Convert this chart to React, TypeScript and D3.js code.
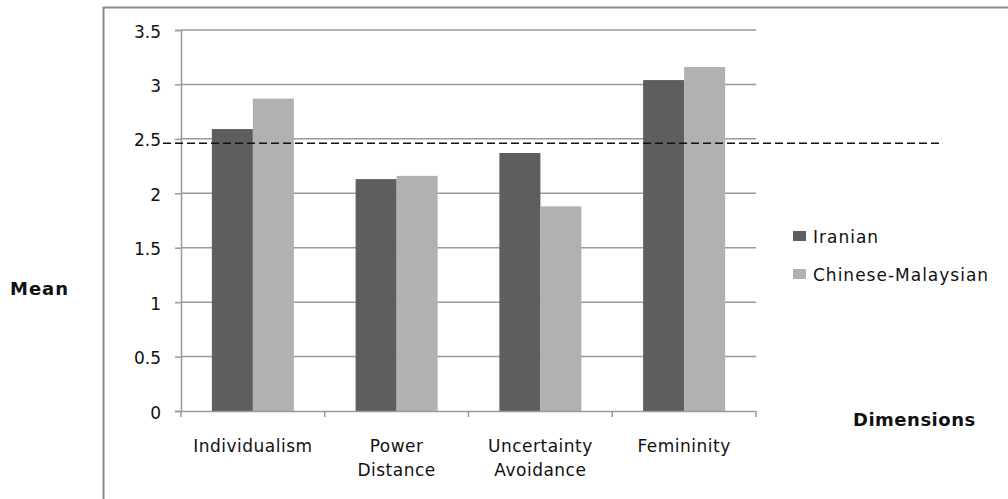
import React, { useEffect, useRef } from 'react';
import * as d3 from 'd3';

const categories = [['Individualism'], ['Power', 'Distance'], ['Uncertainty', 'Avoidance'], ['Femininity']];
const seriesNames = ['Iranian', 'Chinese-Malaysian'];
const iranian = [2.59, 2.13, 2.37, 3.04];
const chineseMalaysian = [2.87, 2.16, 1.88, 3.16];
const yTicks = [0, 0.5, 1, 1.5, 2, 2.5, 3, 3.5];
const referenceLine = 2.46;
const colors = ['#5e5e5e', '#b1b1b1'];

const App = () => {
  const ref = useRef<SVGSVGElement | null>(null);

  useEffect(() => {
    if (!ref.current) return;
    const svg = d3.select(ref.current);
    svg.selectAll('*').remove();
    const font = '"DejaVu Sans", Verdana, sans-serif';

    const left = 181, right = 756, top = 30, bottom = 411;
    const keys = categories.map((c) => c.join(' '));

    const x = d3.scaleBand().domain(keys).range([left, right]).paddingInner(0).paddingOuter(0);
    const inner = d3.scaleBand().domain(seriesNames).range([0, 82]);
    const y = d3.scaleLinear().domain([0, 3.5]).range([bottom, top]);

    // outer frame
    svg.append('path').attr('d', 'M103.5,499 L103.5,7.5 L1008,7.5')
      .attr('fill', 'none').attr('stroke', '#8c8c8c').attr('stroke-width', 2);

    // gridlines
    svg.append('g').selectAll('line').data(yTicks.filter((t) => t > 0)).enter().append('line')
      .attr('x1', left).attr('x2', right)
      .attr('y1', (d) => y(d)).attr('y2', (d) => y(d))
      .attr('stroke', '#9a9a9a').attr('stroke-width', 1.5);

    // y axis
    const yAxis = d3.axisLeft(y).tickValues(yTicks).tickSize(6).tickPadding(14)
      .tickFormat((d) => String(d));
    const gy = svg.append('g').attr('transform', `translate(${left},0)`).call(yAxis);
    gy.select('.domain').attr('stroke', '#9a9a9a').attr('stroke-width', 1.5);
    gy.selectAll('.tick line').attr('stroke', '#9a9a9a').attr('stroke-width', 1.5);
    gy.selectAll('.tick text').attr('font-family', font).attr('font-size', 17).attr('fill', '#111')
      .attr('dy', '0.42em');

    // bars
    const data = keys.map((k, i) => ({ key: k, vals: [iranian[i], chineseMalaysian[i]] }));
    const groups = svg.append('g').selectAll('g').data(data).enter().append('g')
      .attr('transform', (d) => `translate(${x(d.key)! + x.bandwidth() / 2 - 41},0)`);
    groups.selectAll('rect').data((d) => d.vals.map((v, j) => ({ v, s: seriesNames[j], j }))).enter().append('rect')
      .attr('x', (d) => inner(d.s)!)
      .attr('width', inner.bandwidth())
      .attr('y', (d) => y(d.v))
      .attr('height', (d) => y(0) - y(d.v))
      .attr('fill', (d) => colors[d.j]);

    // x axis
    const xAxis = d3.axisBottom(x).tickSize(0).tickFormat(() => '');
    const gx = svg.append('g').attr('transform', `translate(0,${bottom})`).call(xAxis);
    gx.select('.domain').attr('stroke', '#9a9a9a').attr('stroke-width', 1.5);
    const boundaries = [left, ...keys.map((k) => x(k)! + x.bandwidth())];
    svg.append('g').selectAll('line').data(boundaries).enter().append('line')
      .attr('x1', (d) => d).attr('x2', (d) => d)
      .attr('y1', bottom).attr('y2', bottom + 6)
      .attr('stroke', '#9a9a9a').attr('stroke-width', 1.5);

    // category labels
    const labels = svg.append('g').selectAll('text').data(categories).enter().append('text')
      .attr('x', (d) => x(d.join(' '))! + x.bandwidth() / 2)
      .attr('y', 452)
      .attr('text-anchor', 'middle')
      .attr('font-family', font).attr('font-size', 17).attr('letter-spacing', 0.5).attr('fill', '#111');
    labels.selectAll('tspan').data((d) => d).enter().append('tspan')
      .attr('x', function () { return (this.parentNode as SVGTextElement).getAttribute('x'); })
      .attr('dy', (_d, i) => (i === 0 ? 0 : 24))
      .text((d) => d);

    // dashed reference line
    svg.append('line')
      .attr('x1', 163).attr('x2', 940)
      .attr('y1', y(referenceLine)).attr('y2', y(referenceLine))
      .attr('stroke', '#111').attr('stroke-width', 1.5).attr('stroke-dasharray', '8,4');

    // legend
    const legend = svg.append('g').selectAll('g').data(seriesNames).enter().append('g')
      .attr('transform', (_d, i) => `translate(793,${231 + i * 38})`);
    legend.append('rect').attr('width', 13).attr('height', 10).attr('fill', (_d, i) => colors[i]);
    legend.append('text').attr('x', 20).attr('y', 12)
      .attr('font-family', font).attr('font-size', 17).attr('letter-spacing', 1).attr('fill', '#111')
      .text((d) => d);

    // axis titles
    svg.append('text').attr('x', 10).attr('y', 295)
      .attr('font-family', font).attr('font-size', 18).attr('letter-spacing', 1).attr('font-weight', 'bold').attr('fill', '#111')
      .text('Mean');
    svg.append('text').attr('x', 853).attr('y', 426)
      .attr('font-family', font).attr('font-size', 18).attr('letter-spacing', 0.5).attr('font-weight', 'bold').attr('fill', '#111')
      .text('Dimensions');
  }, []);

  return (
    <svg ref={ref} width={1008} height={499}
      style={{ position: 'absolute', left: 0, top: 0, background: '#fff' }} />
  );
};

export default App;
